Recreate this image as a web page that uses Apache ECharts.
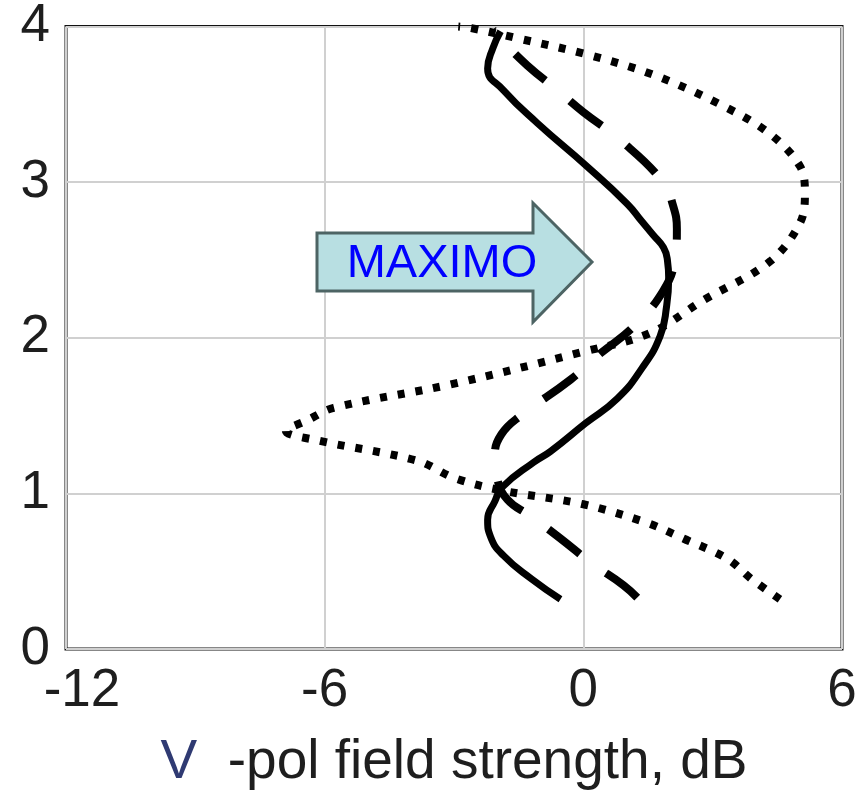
<!DOCTYPE html>
<html>
<head>
<meta charset="utf-8">
<title>V-pol field strength vs height</title>
<script src="https://cdn.jsdelivr.net/npm/echarts@6/dist/echarts.min.js"></script>
<style>
  html, body { margin: 0; padding: 0; background: #ffffff; }
  #chart { width: 868px; height: 795px; }
</style>
</head>
<body>
<div id="chart"></div>
<script>
// Field strength (dB) against height, each profile listed bottom to top as [dB, height]
const solidProfile = [
  [-0.53, 0.32], [-1.20, 0.45], [-1.85, 0.60], [-2.15, 0.72], [-2.22, 0.83],
  [-2.05, 0.95], [-1.88, 1.04], [-1.15, 1.20], [-0.76, 1.27], [0.05, 1.45],
  [0.79, 1.61], [1.35, 1.80], [1.78, 2.01], [1.93, 2.20], [1.98, 2.38],
  [1.95, 2.50], [1.86, 2.58], [1.62, 2.66], [1.35, 2.75], [1.02, 2.86],
  [0.09, 3.10], [-1.07, 3.38], [-1.85, 3.59], [-2.22, 3.73], [-2.10, 3.86],
  [-1.92, 3.97]
];
const dashedProfile = [
  [1.25, 0.33], [0.93, 0.41], [0.20, 0.55], [-0.53, 0.71], [-1.20, 0.85],
  [-1.76, 0.96], [-2.00, 1.10], [-2.05, 1.25], [-1.90, 1.38], [-1.45, 1.50],
  [-0.30, 1.73], [0.40, 1.90], [1.16, 2.07], [1.85, 2.30], [2.12, 2.50],
  [2.17, 2.70], [2.08, 2.85], [1.85, 3.00], [0.86, 3.27], [0.00, 3.45],
  [-0.60, 3.59], [-1.30, 3.75], [-1.85, 3.90], [-2.10, 3.98]
];
const dottedProfile = [
  [4.56, 0.32], [3.90, 0.45], [3.34, 0.58], [2.32, 0.71], [1.48, 0.81],
  [0.00, 0.93], [-1.92, 1.02], [-3.00, 1.10], [-3.85, 1.21], [-6.16, 1.34],
  [-6.90, 1.40], [-6.40, 1.47], [-5.79, 1.55], [-3.08, 1.70], [0.00, 1.91],
  [1.55, 2.03], [2.78, 2.24], [4.33, 2.49], [5.03, 2.74], [5.14, 2.93],
  [5.03, 3.10], [4.33, 3.31], [3.17, 3.50], [1.62, 3.69], [0.09, 3.82],
  [-1.46, 3.92], [-2.60, 3.99], [-2.90, 4.00]
];

// Axis ranges and tick steps
const xRange = [-12, 6];
const xStep = 6;
const yRange = [0, 4];
const yStep = 1;

const axisFont = 'Liberation Sans, Arial, sans-serif';

const chart = echarts.init(document.getElementById('chart'), null, { renderer: 'canvas' });

function profileSeries(name, data, width, dash, smooth) {
  return {
    name: name,
    type: 'line',
    data: data,
    smooth: smooth,
    showSymbol: false,
    symbol: 'none',
    clip: false,
    lineStyle: {
      color: '#000000',
      width: width,
      type: dash,
      cap: 'butt',
      join: 'round'
    },
    emphasis: { disabled: true },
    silent: true,
    animation: false
  };
}

chart.setOption({
  backgroundColor: '#ffffff',
  animation: false,
  grid: {
    left: 66, right: 26, top: 18, bottom: 143,
    show: true,
    borderColor: '#111111',
    borderWidth: 3,
    backgroundColor: 'transparent'
  },
  xAxis: {
    type: 'value',
    min: xRange[0], max: xRange[1], interval: xStep,
    axisLine: { show: false },
    axisTick: { show: false },
    splitLine: { show: true, lineStyle: { color: '#d0d0d0', width: 2 } },
    axisLabel: {
      color: '#1e1e1e', fontFamily: axisFont, fontSize: 53, margin: 16,
      // the leftmost label sits a little inside the frame edge
      formatter: function (v) { return v === xRange[0] ? '{first|' + v + '}' : String(v); },
      rich: {
        first: { color: '#1e1e1e', fontFamily: axisFont, fontSize: 53, padding: [0, 0, 0, 32] }
      }
    },
    name: '{v|V}  -pol field strength, dB',
    nameLocation: 'middle',
    nameGap: 86,
    nameTextStyle: {
      color: '#1e1e1e', fontFamily: axisFont, fontSize: 55,
      rich: {
        v: { color: '#2f3a72', fontFamily: axisFont, fontSize: 55 }
      }
    }
  },
  yAxis: {
    type: 'value',
    min: yRange[0], max: yRange[1], interval: yStep,
    axisLine: { show: false },
    axisTick: { show: false },
    splitLine: { show: true, lineStyle: { color: '#d0d0d0', width: 2 } },
    axisLabel: {
      color: '#1e1e1e', fontFamily: axisFont, fontSize: 53, margin: 16
    }
  },
  series: [
    profileSeries('solid', solidProfile, 7, 'solid', 0.5),
    profileSeries('dashed', dashedProfile, 8, [40, 32], 0.45),
    profileSeries('dotted', dottedProfile, 8, [7, 11], 0.35)
  ],
  graphic: [
    {
      type: 'polygon',
      shape: {
        points: [[317, 233], [533, 233], [533, 203], [592, 262], [533, 322], [533, 291], [317, 291]]
      },
      style: { fill: '#b8dfe2', stroke: '#4d6464', lineWidth: 3 },
      z: 10
    },
    {
      type: 'text',
      x: 442, y: 264,
      style: {
        text: 'MAXIMO',
        fill: '#0000ff',
        font: '47px Liberation Sans, Arial, sans-serif',
        align: 'center',
        verticalAlign: 'middle'
      },
      z: 11
    }
  ]
});
</script>
</body>
</html>
